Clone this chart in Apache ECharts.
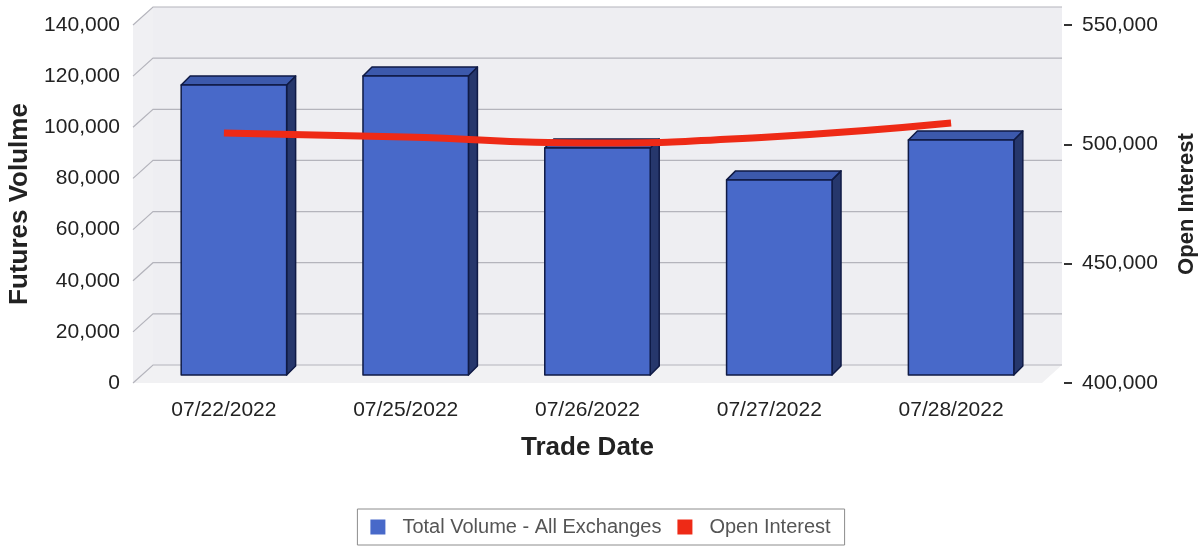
<!DOCTYPE html>
<html>
<head>
<meta charset="utf-8">
<script src="https://cdn.jsdelivr.net/npm/echarts@6/dist/echarts.min.js"></script>
<style>
  html, body { margin: 0; padding: 0; background: #fff; }
  #chart { width: 1201px; height: 548px; }
</style>
</head>
<body>
<div id="chart"></div>
<script>
// data
const tradeDates = ['07/22/2022', '07/25/2022', '07/26/2022', '07/27/2022', '07/28/2022']
const totalVolume = [113400, 116900, 88800, 76300, 91900]
const openInterest = [504700, 503100, 500600, 503100, 508900]
const volumeTicks = [0, 20000, 40000, 60000, 80000, 100000, 120000, 140000]

// 3d look: depth of the wall and of the bars
const WALL_DX = 20
const WALL_DY = -18
const BAR_DX = 10
const BAR_DY = -8
const SIDE_DX = 9
const SIDE_DY = -9

const fmt = v => v.toLocaleString('en-US')

const myChart = echarts.init(document.getElementById('chart'))

function renderWall (params, api) {
  const cs = params.coordSys
  const y = api.coord([0, api.value(1)])[1]
  const x0 = cs.x
  const x1 = cs.x + cs.width
  const children = []
  if (params.dataIndex === 0) {
    const yTop = cs.y
    const yBot = cs.y + cs.height
    // back wall
    children.push({
      type: 'rect',
      shape: { x: x0 + WALL_DX, y: yTop + WALL_DY, width: cs.width, height: cs.height },
      style: { fill: '#eeeef2' },
      z2: 0
    })
    // left side wall
    children.push({
      type: 'polygon',
      shape: { points: [[x0, yTop], [x0 + WALL_DX, yTop + WALL_DY], [x0 + WALL_DX, yBot + WALL_DY], [x0, yBot]] },
      style: { fill: '#f0f0f3' },
      z2: 0
    })
    // floor
    children.push({
      type: 'polygon',
      shape: { points: [[x0, yBot], [x1, yBot], [x1 + WALL_DX, yBot + WALL_DY], [x0 + WALL_DX, yBot + WALL_DY]] },
      style: { fill: '#f1f1f3' },
      z2: 0
    })
  }
  children.push({
    type: 'polyline',
    shape: { points: [[x0, y], [x0 + WALL_DX, y + WALL_DY], [x1 + WALL_DX, y + WALL_DY]] },
    style: { stroke: '#b4b4bc', lineWidth: 1.2, fill: null },
    z2: 1
  })
  return { type: 'group', children }
}

function renderBar (params, api) {
  const i = api.value(0)
  const base = api.coord([i, 0])
  const top = api.coord([i, api.value(1)])
  const w = api.size([1, 0])[0] * 0.58
  const xl = base[0] + BAR_DX - w / 2
  const xr = xl + w
  const yb = base[1] + BAR_DY
  const yt = top[1] + BAR_DY
  const edge = { stroke: '#0f1a45', lineWidth: 1.5, lineJoin: 'round' }
  return {
    type: 'group',
    children: [
      {
        type: 'polygon',
        shape: { points: [[xr, yt], [xr + SIDE_DX, yt + SIDE_DY], [xr + SIDE_DX, yb + SIDE_DY], [xr, yb]] },
        style: Object.assign({ fill: '#26376c' }, edge)
      },
      {
        type: 'polygon',
        shape: { points: [[xl, yt], [xl + SIDE_DX, yt + SIDE_DY], [xr + SIDE_DX, yt + SIDE_DY], [xr, yt]] },
        style: Object.assign({ fill: '#3c59ac' }, edge)
      },
      {
        type: 'rect',
        shape: { x: xl, y: yt, width: w, height: yb - yt },
        style: Object.assign({ fill: '#4869c9' }, edge)
      }
    ]
  }
}

const option = {
  animation: false,
  textStyle: { fontFamily: 'Arial, "Liberation Sans", sans-serif' },
  grid: { left: 133, right: 159, top: 25, bottom: 165, outerBoundsMode: 'none', containLabel: false },
  legend: {
    left: 'center',
    top: 509,
    itemWidth: 15,
    itemHeight: 15,
    itemGap: 16,
    padding: [8, 14, 8, 13],
    borderColor: '#8c8c8c',
    borderWidth: 1,
    borderRadius: 0,
    textStyle: { color: '#555', fontSize: 20, padding: [0, 0, 0, 12] },
    data: [
      { name: 'Total Volume - All Exchanges', icon: 'rect', itemStyle: { color: '#4869c9' } },
      { name: 'Open Interest', icon: 'rect', itemStyle: { color: '#ee2a16' } }
    ]
  },
  xAxis: {
    type: 'category',
    data: tradeDates,
    boundaryGap: true,
    name: 'Trade Date',
    nameLocation: 'middle',
    nameGap: 52,
    nameTextStyle: { fontSize: 26, fontWeight: 'bold', color: '#222' },
    axisLine: { show: false },
    axisTick: { show: false },
    axisLabel: { margin: 17, fontSize: 21, color: '#222' }
  },
  yAxis: [
    {
      type: 'value',
      min: 0,
      max: 140000,
      interval: 20000,
      name: 'Futures Volulme',
      nameLocation: 'middle',
      nameGap: 99,
      nameTextStyle: { fontSize: 26, fontWeight: 'bold', color: '#222' },
      axisLine: { show: false },
      axisTick: { show: false },
      splitLine: { show: false },
      axisLabel: { margin: 13, fontSize: 21, color: '#222', formatter: fmt }
    },
    {
      type: 'value',
      min: 400000,
      max: 550000,
      interval: 50000,
      position: 'right',
      offset: 22,
      name: 'Open Interest',
      nameLocation: 'middle',
      nameGap: 112,
      nameTextStyle: { fontSize: 22, fontWeight: 'bold', color: '#222' },
      axisLine: { show: false },
      axisTick: { show: true, length: 8, lineStyle: { color: '#333', width: 2 } },
      splitLine: { show: false },
      axisLabel: { margin: 18, fontSize: 21, color: '#222', formatter: fmt }
    }
  ],
  series: [
    {
      type: 'custom',
      name: 'wall',
      silent: true,
      z: 0,
      renderItem: renderWall,
      data: volumeTicks.map(v => [0, v])
    },
    {
      type: 'custom',
      name: 'Total Volume - All Exchanges',
      z: 2,
      renderItem: renderBar,
      data: totalVolume.map((v, i) => [i, v])
    },
    {
      type: 'line',
      name: 'Open Interest',
      yAxisIndex: 1,
      z: 3,
      smooth: true,
      symbol: 'none',
      lineStyle: { color: '#ee2a16', width: 7 },
      itemStyle: { color: '#ee2a16' },
      data: openInterest
    }
  ]
}

myChart.setOption(option)
</script>
</body>
</html>
